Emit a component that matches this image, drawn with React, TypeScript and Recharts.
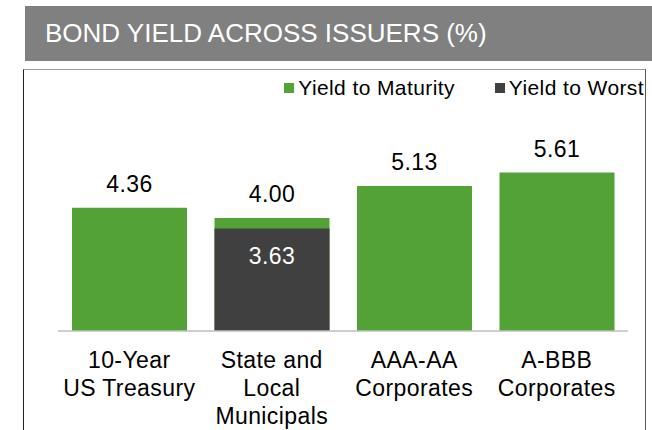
import React from 'react';
import { BarChart, Bar, XAxis, YAxis, LabelList } from 'recharts';

const categories = ['10-Year\nUS Treasury', 'State and\nLocal\nMunicipals', 'AAA-AA\nCorporates', 'A-BBB\nCorporates'];
const yieldToMaturity = [4.36, 4.0, 5.13, 5.61];
const yieldToWorst = [null, 3.63, null, null];
const seriesNames = ['Yield to Maturity', 'Yield to Worst'];

const GREEN = '#52A236';
const DARK = '#404040';
const FONT = '"Liberation Sans", Arial, sans-serif';

const data = categories.map((name, i) => ({
    name,
    ytm: yieldToMaturity[i],
    ytw: yieldToWorst[i],
}));

// tick y arrives already offset by tickSize + tickMargin (~8px below the axis)
const MultiLineTick = ({ x, y, payload }: any) => {
    const lines = String(payload.value).split('\n');
    return (
        <text x={x} y={y + 29} textAnchor="middle" fill="#000" fontSize={23} letterSpacing={0.4} fontFamily={FONT}>
            {lines.map((line, i) => (
                <tspan key={i} x={x} dy={i === 0 ? 0 : 28}>
                    {line}
                </tspan>
            ))}
        </text>
    );
};

const TopLabel = ({ x, y, width, value }: any) => {
    if (value == null) return null;
    return (
        <text x={x + width / 2} y={y - 16} textAnchor="middle" fill="#000" fontSize={23} letterSpacing={0.4} fontFamily={FONT}>
            {value.toFixed(2)}
        </text>
    );
};

const InsideLabel = ({ x, y, width, value }: any) => {
    if (value == null) return null;
    return (
        <text x={x + width / 2} y={y + 36} textAnchor="middle" fill="#fff" fontSize={23} letterSpacing={0.4} fontFamily={FONT}>
            {value.toFixed(2)}
        </text>
    );
};

export default function App() {
    const legendItems = [
        { name: seriesNames[0], color: GREEN },
        { name: seriesNames[1], color: DARK },
    ];

    return (
        <div style={{ position: 'absolute', left: 0, top: 0, width: 652, height: 430, overflow: 'hidden', background: '#fff', fontFamily: FONT }}>
            {/* title bar */}
            <div
                style={{
                    position: 'absolute', left: 25, top: 6, width: 627, height: 55,
                    background: '#808080', color: '#fff', fontSize: 26, lineHeight: '26px',
                    paddingTop: 14, paddingLeft: 20, boxSizing: 'border-box', whiteSpace: 'nowrap',
                }}
            >
                BOND YIELD ACROSS ISSUERS (%)
            </div>

            {/* chart frame */}
            <div
                style={{
                    position: 'absolute', left: 23, top: 69, width: 623, height: 400,
                    borderTop: '1px solid #9a9a9a', borderLeft: '1px solid #222', borderRight: '1px solid #555',
                    boxSizing: 'border-box',
                }}
            />

            {/* legend */}
            <div
                style={{
                    position: 'absolute', right: 8, top: 77, display: 'flex', alignItems: 'center',
                    fontSize: 21, lineHeight: '21px', letterSpacing: 0.4, color: '#000', whiteSpace: 'nowrap',
                }}
            >
                {legendItems.map((item, i) => (
                    <div key={item.name} style={{ display: 'flex', alignItems: 'center', marginLeft: i === 0 ? 0 : 40 }}>
                        <span style={{ width: 10, height: 10, background: item.color, marginRight: 4, display: 'inline-block' }} />
                        <span>{item.name}</span>
                    </div>
                ))}
            </div>

            <div style={{ position: 'absolute', left: 0, top: 0 }}>
                <BarChart
                    width={652}
                    height={430}
                    data={data}
                    margin={{ top: 161.5, right: 24, bottom: 0, left: 58 }}
                    barSize={115}
                    barGap={-115}
                >
                    <XAxis
                        dataKey="name"
                        interval={0}
                        height={99}
                        tickLine={false}
                        axisLine={{ stroke: '#bfbfbf', strokeWidth: 1.5 }}
                        tick={<MultiLineTick />}
                    />
                    <YAxis hide domain={[0, 6]} />
                    <Bar dataKey="ytm" name={seriesNames[0]} fill={GREEN} isAnimationActive={false}>
                        <LabelList dataKey="ytm" content={<TopLabel />} />
                    </Bar>
                    <Bar dataKey="ytw" name={seriesNames[1]} fill={DARK} isAnimationActive={false}>
                        <LabelList dataKey="ytw" content={<InsideLabel />} />
                    </Bar>
                </BarChart>
            </div>
        </div>
    );
}
